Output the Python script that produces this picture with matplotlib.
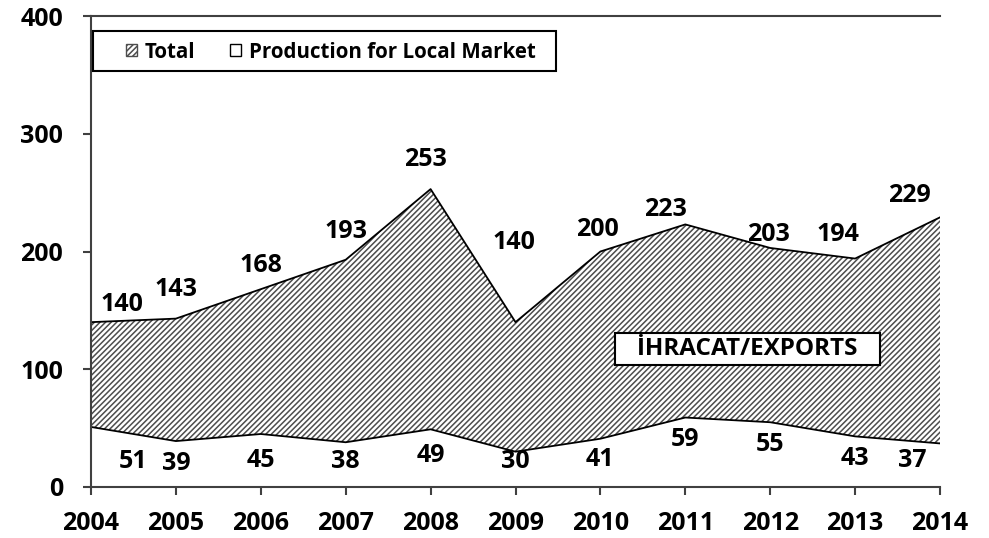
import matplotlib.pyplot as plt
from matplotlib.patches import Patch, Rectangle

years = [2004, 2005, 2006, 2007, 2008, 2009, 2010, 2011, 2012, 2013, 2014]
total = [140, 143, 168, 193, 253, 140, 200, 223, 203, 194, 229]
local = [51, 39, 45, 38, 49, 30, 41, 59, 55, 43, 37]

# label offsets in points (dx, dy), tuned by eye
total_off = [(22, 13), (0, 21), (0, 17), (0, 20), (-4, 21), (-1, 57), (-2, 16), (-14, 11), (-1, 10), (-12, 17), (-22, 16)]
local_off = [(30, -25), (0, -16), (0, -19), (0, -14), (0, -19), (0, -7), (0, -15), (0, -16), (0, -16), (0, -16), (-20, -12)]

plt.rcParams['font.family'] = ['Open Sans', 'DejaVu Sans']
plt.rcParams['font.weight'] = 'bold'
plt.rcParams['hatch.color'] = '#4d4d4d'
plt.rcParams['hatch.linewidth'] = 1.1

W, H = 989, 538
fig = plt.figure(figsize=(W / 100, H / 100), dpi=100)
ax = fig.add_axes([91 / W, 51 / H, 849 / W, 471 / H])

ax.fill_between(years, 0, total, facecolor='white', hatch='//////', edgecolor='#4d4d4d', linewidth=0)
ax.fill_between(years, 0, local, facecolor='white', edgecolor='none', linewidth=0)
ax.plot(years, total, color='black', lw=1.3)
ax.plot(years, local, color='black', lw=1.3)

for x, v, (dx, dy) in zip(years, total, total_off):
    ax.annotate(str(v), (x, v), xytext=(dx, dy), textcoords='offset points',
                ha='center', va='center', fontsize=18, fontweight='bold')
for x, v, (dx, dy) in zip(years, local, local_off):
    ax.annotate(str(v), (x, v), xytext=(dx, dy), textcoords='offset points',
                ha='center', va='center', fontsize=18, fontweight='bold')

# label box for the exports band
ax.add_patch(Rectangle((615 / W, (H - 365) / H), 265 / W, 32 / H, transform=fig.transFigure,
                       facecolor='white', edgecolor='black', lw=1.5, zorder=4))
ax.text(747 / W, (H - 349) / H, 'İHRACAT/EXPORTS', transform=fig.transFigure,
        ha='center', va='center', fontsize=17.5, fontweight='bold', zorder=5)

ax.set_xlim(2004, 2014)
ax.set_ylim(0, 400)
ax.set_xticks(years)
ax.set_yticks([0, 100, 200, 300, 400])
ax.tick_params(labelsize=18, width=1.5, length=6, direction='out', color='#404040')
ax.tick_params(axis='x', pad=11)
ax.tick_params(axis='y', pad=14)
for lab in ax.get_xticklabels() + ax.get_yticklabels():
    lab.set_fontweight('bold')
ax.spines['right'].set_visible(False)
for s in ['left', 'bottom', 'top']:
    ax.spines[s].set_linewidth(1.5)
    ax.spines[s].set_color('#404040')

# legend with a separate frame
fig.add_artist(Rectangle((93 / W, (H - 71) / H), 463 / W, 40 / H, transform=fig.transFigure,
                         facecolor='white', edgecolor='black', lw=1.5, zorder=6))
handles = [Patch(facecolor='white', hatch='//////', edgecolor='#4d4d4d', label='Total'),
           Patch(facecolor='white', edgecolor='black', label='Production for Local Market')]
leg = fig.legend(handles=handles, loc='center left', bbox_to_anchor=(116 / W, (H - 52) / H),
                 bbox_transform=fig.transFigure, ncol=2, fontsize=14.8, frameon=False,
                 handlelength=0.5, handleheight=0.5, handletextpad=0.4, columnspacing=1.7,
                 borderpad=0)
leg.set_zorder(7)
for t in leg.get_texts():
    t.set_fontweight('bold')

fig.savefig('out.png', dpi=100)
